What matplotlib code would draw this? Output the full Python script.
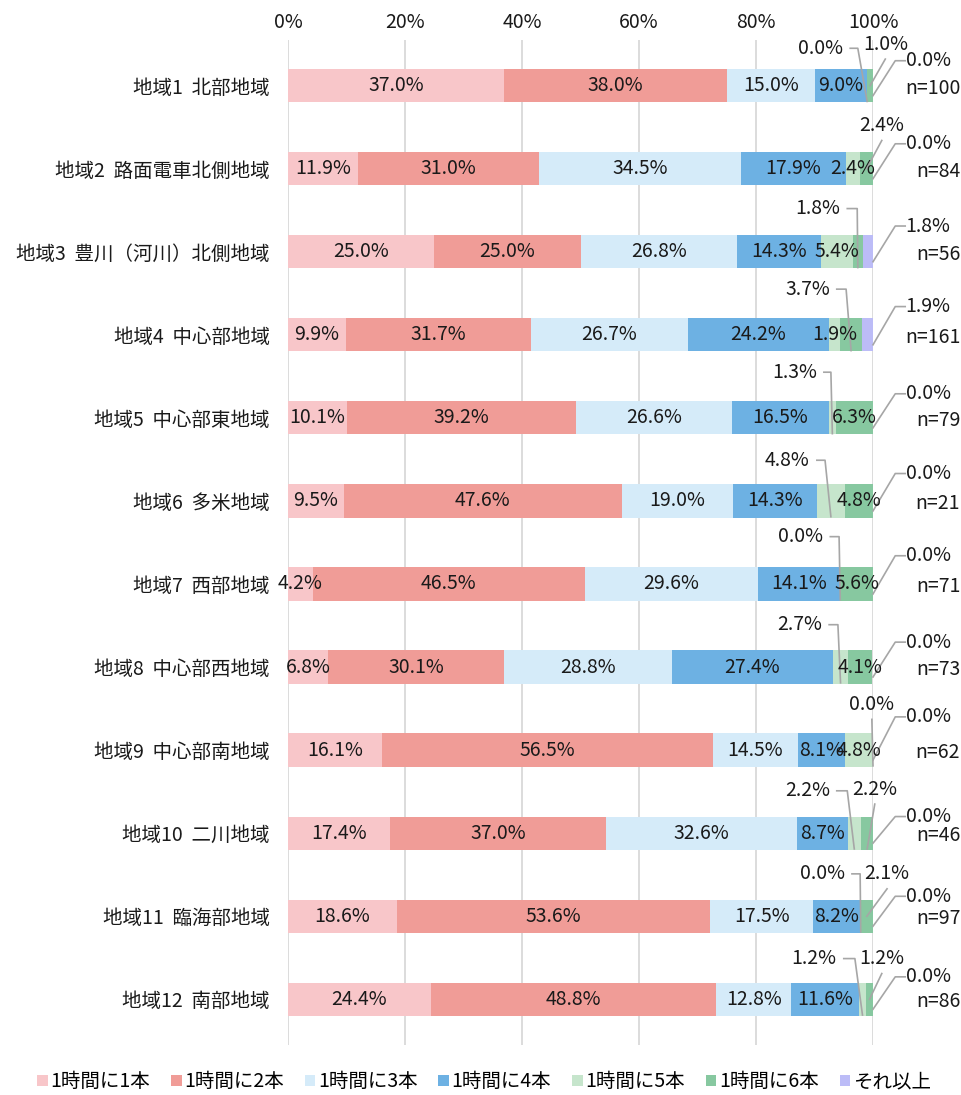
import matplotlib
matplotlib.use("Agg")
import matplotlib.pyplot as plt
from matplotlib.patches import Patch

plt.rcParams['font.family'] = ['Noto Sans CJK JP', 'DejaVu Sans']

regions = [
    "地域1  北部地域", "地域2  路面電車北側地域", "地域3  豊川（河川）北側地域",
    "地域4  中心部地域", "地域5  中心部東地域", "地域6  多米地域",
    "地域7  西部地域", "地域8  中心部西地域", "地域9  中心部南地域",
    "地域10  二川地域", "地域11  臨海部地域", "地域12  南部地域",
]
n_counts = [100, 84, 56, 161, 79, 21, 71, 73, 62, 46, 97, 86]

series_names = ["1時間に1本", "1時間に2本", "1時間に3本", "1時間に4本",
                "1時間に5本", "1時間に6本", "それ以上"]
per_hour_1 = [37.0, 11.9, 25.0, 9.9, 10.1, 9.5, 4.2, 6.8, 16.1, 17.4, 18.6, 24.4]
per_hour_2 = [38.0, 31.0, 25.0, 31.7, 39.2, 47.6, 46.5, 30.1, 56.5, 37.0, 53.6, 48.8]
per_hour_3 = [15.0, 34.5, 26.8, 26.7, 26.6, 19.0, 29.6, 28.8, 14.5, 32.6, 17.5, 12.8]
per_hour_4 = [9.0, 17.9, 14.3, 24.2, 16.5, 14.3, 14.1, 27.4, 8.1, 8.7, 8.2, 11.6]
per_hour_5 = [0.0, 2.4, 5.4, 1.9, 1.3, 4.8, 0.0, 2.7, 4.8, 2.2, 0.0, 1.2]
per_hour_6 = [1.0, 2.4, 1.8, 3.7, 6.3, 4.8, 5.6, 4.1, 0.0, 2.2, 2.1, 1.2]
more = [0.0, 0.0, 1.8, 1.9, 0.0, 0.0, 0.0, 0.0, 0.0, 0.0, 0.0, 0.0]

series = [per_hour_1, per_hour_2, per_hour_3, per_hour_4, per_hour_5, per_hour_6, more]
colors = ["#F8C6C9", "#F09C97", "#D5EBF9", "#6DB1E3", "#C6E5CC", "#87C8A0", "#BCBCF7"]

# label placement for small segments: (row, segment) -> where the text sits
TOP_CALLOUTS = {
    (0, 4): dict(tx=94.9, dy=-0.45, kind="left", elbow=97.4),
    (0, 5): dict(tx=102.1, dy=-0.50, kind="above"),
    (1, 5): dict(tx=101.5, dy=-0.52, kind="above"),
    (2, 5): dict(tx=94.4, dy=-0.52, kind="left", elbow=97.3),
    (3, 5): dict(tx=92.6, dy=-0.55, kind="left", elbow=95.4),
    (4, 4): dict(tx=90.4, dy=-0.55, kind="left", elbow=92.8),
    (5, 4): dict(tx=89.2, dy=-0.49, kind="left", elbow=91.8),
    (6, 4): dict(tx=91.5, dy=-0.57, kind="left", elbow=94.2),
    (7, 4): dict(tx=91.3, dy=-0.51, kind="left", elbow=94.0),
    (8, 5): dict(tx=99.8, dy=-0.55, kind="above", end_dy=0.19),
    (9, 4): dict(tx=92.6, dy=-0.51, kind="left", elbow=95.6),
    (9, 5): dict(tx=100.3, dy=-0.53, kind="above", end_dy=0.19),
    (10, 4): dict(tx=95.2, dy=-0.51, kind="left", elbow=97.8),
    (10, 5): dict(tx=102.4, dy=-0.51, kind="above"),
    (11, 4): dict(tx=93.8, dy=-0.49, kind="left", elbow=96.9),
    (11, 5): dict(tx=101.5, dy=-0.49, kind="above"),
}
RIGHT_DY = [-0.30, -0.30, -0.31, -0.34, -0.29, -0.33, -0.34, -0.30, -0.40, -0.20, -0.24, -0.27]

FS = 14
LINE = dict(color="#A6A6A6", linewidth=1.2, clip_on=False, zorder=4)
TXT = "#1A1A1A"

fig = plt.figure(figsize=(9.62, 10.95), dpi=100)
ax = fig.add_axes([0.2994, 0.0457, 0.6081, 0.9178])

rows = list(range(len(regions)))
lefts = [0.0] * len(regions)
for k, vals in enumerate(series):
    ax.barh(rows, vals, left=lefts, height=0.4, color=colors[k],
            label=series_names[k], zorder=3)
    for i, v in enumerate(vals):
        cx = lefts[i] + v / 2
        txt = f"{v:.1f}%"
        if k == 6:
            ty = i + RIGHT_DY[i]
            ax.plot([100, 103.8, 105.5], [i + 0.12, ty, ty], **LINE)
            ax.text(109.4, ty, txt, ha="center", va="center", fontsize=FS,
                    color=TXT, clip_on=False)
        elif (i, k) in TOP_CALLOUTS:
            c = TOP_CALLOUTS[(i, k)]
            ty = i + c["dy"]
            if c["kind"] == "left":
                ax.text(c["tx"], ty, txt, ha="right", va="center", fontsize=FS,
                        color=TXT, clip_on=False)
                ax.plot([c["tx"] + 1.2, c["elbow"], cx], [ty, ty, i + 0.19], **LINE)
            else:
                ax.text(c["tx"], ty, txt, ha="center", va="center", fontsize=FS,
                        color=TXT, clip_on=False)
                ax.plot([c["tx"], cx], [ty + 0.18, i + c.get("end_dy", 0.0)], **LINE)
        else:
            ax.text(cx, i, txt, ha="center", va="center", fontsize=FS,
                    color=TXT, zorder=5)
        lefts[i] += v

for i, n in enumerate(n_counts):
    ax.text(114.9, i + 0.03, f"n={n}", ha="right", va="center", fontsize=FS,
            color=TXT, clip_on=False)

ax.set_xlim(0, 100)
ax.set_ylim(11.55, -0.55)
ax.set_yticks(rows)
ax.set_yticklabels(regions, fontsize=FS, color=TXT)
ax.set_xticks([0, 20, 40, 60, 80, 100])
ax.set_xticklabels([f"{t}%" for t in [0, 20, 40, 60, 80, 100]], fontsize=FS, color=TXT)
ax.xaxis.tick_top()
ax.tick_params(axis="both", length=0)
ax.tick_params(axis="y", pad=13)
ax.tick_params(axis="x", pad=5)
ax.grid(axis="x", color="#D9D9D9", linewidth=1.3, zorder=0)
ax.set_axisbelow(True)
for s in ax.spines.values():
    s.set_visible(False)

handles = [Patch(facecolor=c, edgecolor="none") for c in colors]
fig.legend(handles, series_names, loc="center", bbox_to_anchor=(0.503, 0.012),
           ncol=7, frameon=False, fontsize=FS, handlelength=0.55, handleheight=0.55,
           handletextpad=0.12, columnspacing=1.08, borderaxespad=0)

fig.savefig("out.png", dpi=100)
plt.close(fig)
